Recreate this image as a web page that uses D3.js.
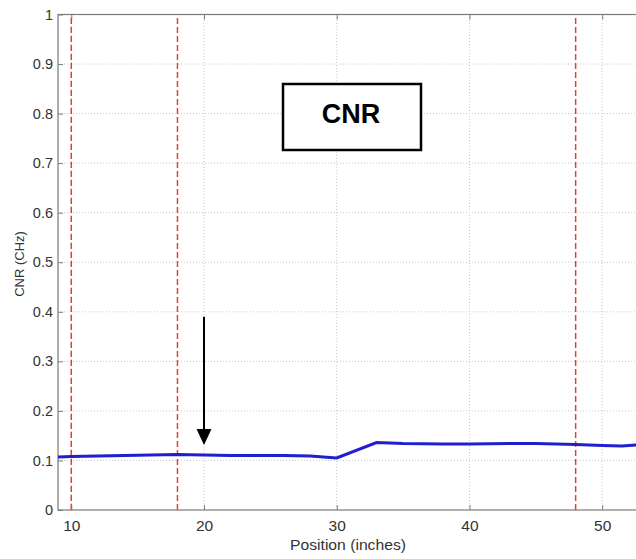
<!DOCTYPE html>
<html><head><meta charset="utf-8">
<script src="https://cdn.jsdelivr.net/npm/d3@7"></script>
<style>body{margin:0;background:#fff;overflow:hidden}svg{display:block}</style>
</head><body>
<script>
const posX = [9,10,12,14,16,18,20,22,24,26,28,30,33,35,38,40,43,45,48,50,51.5,53];
const cnrY = [0.107,0.108,0.109,0.110,0.111,0.112,0.111,0.110,0.110,0.110,0.109,0.105,0.136,0.134,0.133,0.133,0.134,0.134,0.132,0.130,0.129,0.132];
const xTicks = [10,20,30,40,50];
const yTicks = [0,0.1,0.2,0.3,0.4,0.5,0.6,0.7,0.8,0.9,1];
const redLines = [10,18,48];
const arrow = {x:20, y1:0.39, y2:0.131};
const boxLabel = "CNR";

const W=636,H=559;
const svg=d3.select("body").append("svg").attr("width",W).attr("height",H);
const x=d3.scaleLinear().domain([9,53]).range([58,642]);
const y=d3.scaleLinear().domain([0,1]).range([510,14.5]);
const axisCol="#7a7a7a";
const font="Arial, Liberation Sans, sans-serif";

// grid
svg.append("g").selectAll("line").data(xTicks).join("line")
  .attr("x1",d=>x(d)).attr("x2",d=>x(d)).attr("y1",y(0)).attr("y2",y(1))
  .attr("stroke","#c8c8c8").attr("stroke-width",1).attr("stroke-dasharray","1,2");
svg.append("g").selectAll("line").data(yTicks.slice(1,-1)).join("line")
  .attr("x1",x(9)).attr("x2",x(53)).attr("y1",d=>y(d)).attr("y2",d=>y(d))
  .attr("stroke","#c8c8c8").attr("stroke-width",1).attr("stroke-dasharray","1,2");

// red dashed lines
svg.append("g").selectAll("line").data(redLines).join("line")
  .attr("x1",d=>x(d)).attr("x2",d=>x(d)).attr("y1",y(0)).attr("y2",y(1))
  .attr("stroke","#e0403a").attr("stroke-width",1.5).attr("stroke-dasharray","6,3");

// frame
svg.append("rect").attr("x",x(9)).attr("y",y(1)).attr("width",x(53)-x(9)).attr("height",y(0)-y(1))
  .attr("fill","none").attr("stroke",axisCol).attr("stroke-width",1.2);

// axes
const ax=svg.append("g").attr("transform",`translate(0,${y(0)})`)
  .call(d3.axisBottom(x).tickValues(xTicks).tickSizeInner(-5).tickSizeOuter(0).tickPadding(10));
ax.selectAll(".tick text").attr("font-size",15.5);
const ay=svg.append("g").attr("transform",`translate(${x(9)},0)`)
  .call(d3.axisLeft(y).tickValues(yTicks).tickFormat(d=>d3.format("~g")(d)).tickSizeInner(-5).tickSizeOuter(0).tickPadding(5));
ay.selectAll(".tick text").attr("font-size",14.5);
// top ticks
svg.append("g").attr("transform",`translate(0,${y(1)})`)
  .call(d3.axisTop(x).tickValues(xTicks).tickSizeInner(-5).tickSizeOuter(0).tickFormat(""));
svg.selectAll(".domain").remove();
svg.selectAll(".tick line").attr("stroke",axisCol);
svg.selectAll(".tick text").attr("font-family",font).attr("fill","#333");

// line
svg.append("path").datum(posX.map((d,i)=>[d,cnrY[i]]))
  .attr("d",d3.line().x(d=>x(d[0])).y(d=>y(d[1])))
  .attr("fill","none").attr("stroke","#1f1fd0").attr("stroke-width",3);

// arrow
svg.append("line").attr("x1",x(arrow.x)).attr("x2",x(arrow.x)).attr("y1",y(arrow.y1)).attr("y2",y(arrow.y2)-14)
  .attr("stroke","#000").attr("stroke-width",2);
svg.append("path").attr("d",`M${x(arrow.x)-7.5},${y(arrow.y2)-16} L${x(arrow.x)+7.5},${y(arrow.y2)-16} L${x(arrow.x)},${y(arrow.y2)} Z`).attr("fill","#000");

// CNR box
svg.append("rect").attr("x",283).attr("y",84).attr("width",138).attr("height",66)
  .attr("fill","#fff").attr("stroke","#000").attr("stroke-width",2.5);
svg.append("text").attr("x",351).attr("y",123).attr("text-anchor","middle")
  .attr("font-family",font).attr("font-weight","bold").attr("font-size",27).text(boxLabel);

// axis labels
svg.append("text").attr("x",348).attr("y",550).attr("text-anchor","middle")
  .attr("font-family",font).attr("font-size",14).attr("fill","#333")
  .attr("textLength",116).attr("lengthAdjust","spacingAndGlyphs").text("Position (inches)");
svg.append("text").attr("transform",`translate(24,${264}) rotate(-90)`).attr("text-anchor","middle")
  .attr("font-family",font).attr("font-size",13).attr("fill","#333").text("CNR (CHz)");
</script>
</body></html>
